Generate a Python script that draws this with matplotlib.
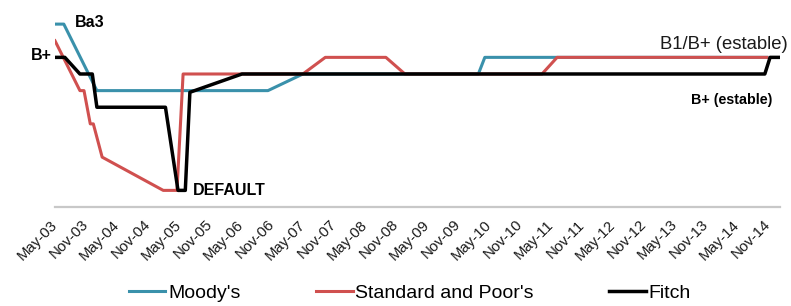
import pandas as pd
import matplotlib
matplotlib.use('Agg')
import matplotlib.pyplot as plt

plt.rcParams['font.family'] = ['Liberation Sans', 'DejaVu Sans']

# rating scale: 1 = default ... 9 = B1/B+, 11 = Ba3
moodys_dates = ['2003-05-01', '2003-06-22', '2004-01-03', '2006-10-07', '2007-05-01',
                '2010-02-28', '2010-04-07', '2014-10-25']
moodys_vals = [11, 11, 7, 7, 8, 8, 9, 9]

sp_dates = ['2003-05-01', '2003-09-25', '2003-10-19', '2003-11-25', '2003-12-13',
            '2004-02-03', '2005-01-28', '2005-04-19', '2005-05-25', '2007-05-01',
            '2007-09-10', '2008-09-01', '2008-12-22', '2011-03-10', '2011-06-07',
            '2014-10-25']
sp_vals = [10, 7, 7, 5, 5, 3, 1, 1, 8, 8, 9, 9, 8, 8, 9, 9]

fitch_dates = ['2003-05-01', '2003-06-28', '2003-09-25', '2003-12-07', '2004-01-03',
               '2005-02-10', '2005-04-25', '2005-06-07', '2005-07-04', '2006-05-07',
               '2014-10-13', '2014-11-13', '2015-01-10']
fitch_vals = [9, 9, 8, 8, 6, 6, 1, 1, 6.9, 8, 8, 9, 9]

tick_dates = pd.date_range('2003-05-01', '2014-11-01', freq='6MS')
tick_labels = [d.strftime('%b-%y') for d in tick_dates]

fig = plt.figure(figsize=(7.91, 3.06), dpi=100)
ax = fig.add_axes([0.0695, 0.3235, 0.9165, 0.6765])

ax.plot(pd.to_datetime(moodys_dates), moodys_vals, color='#3A91AB', lw=2.2, label="Moody's")
ax.plot(pd.to_datetime(sp_dates), sp_vals, color='#D0504F', lw=2.2, label='Standard and Poor\'s')
ax.plot(pd.to_datetime(fitch_dates), fitch_vals, color='black', lw=2.5, label='Fitch')

ax.set_xlim(pd.Timestamp('2003-05-01'), pd.Timestamp('2015-01-10'))
ax.set_ylim(0, 12.45)

ax.set_xticks(tick_dates)
ax.set_xticklabels(tick_labels, rotation=45, ha='right', va='center',
                   rotation_mode='anchor', fontsize=10.8, color='#1a1a1a')
ax.tick_params(axis='x', length=0, pad=11)
ax.set_yticks([])

for s in ['top', 'right', 'left']:
    ax.spines[s].set_visible(False)
ax.spines['bottom'].set_color('#C8C8C8')
ax.spines['bottom'].set_linewidth(1.6)

# labels on the chart
fig.text(0.0948, 0.928, 'Ba3', fontsize=11.5, fontweight='bold', va='center', ha='left')
fig.text(0.0657, 0.817, 'B+', fontsize=11.5, fontweight='bold', va='center', ha='right')
fig.text(0.244, 0.376, 'DEFAULT', fontsize=11.5, fontweight='bold', va='center', ha='left')
fig.text(0.996, 0.856, 'B1/B+ (estable)', fontsize=13.3, va='center', ha='right', color='#1a1a1a')
fig.text(0.977, 0.673, 'B+ (estable)', fontsize=10.3, fontweight='bold', va='center', ha='right')

fig.legend(loc='center', bbox_to_anchor=(0.518, 0.042), ncol=3, frameon=False,
           fontsize=14, handlelength=1.9, handletextpad=0.15, columnspacing=3.85)

fig.savefig('out.png', dpi=100)
